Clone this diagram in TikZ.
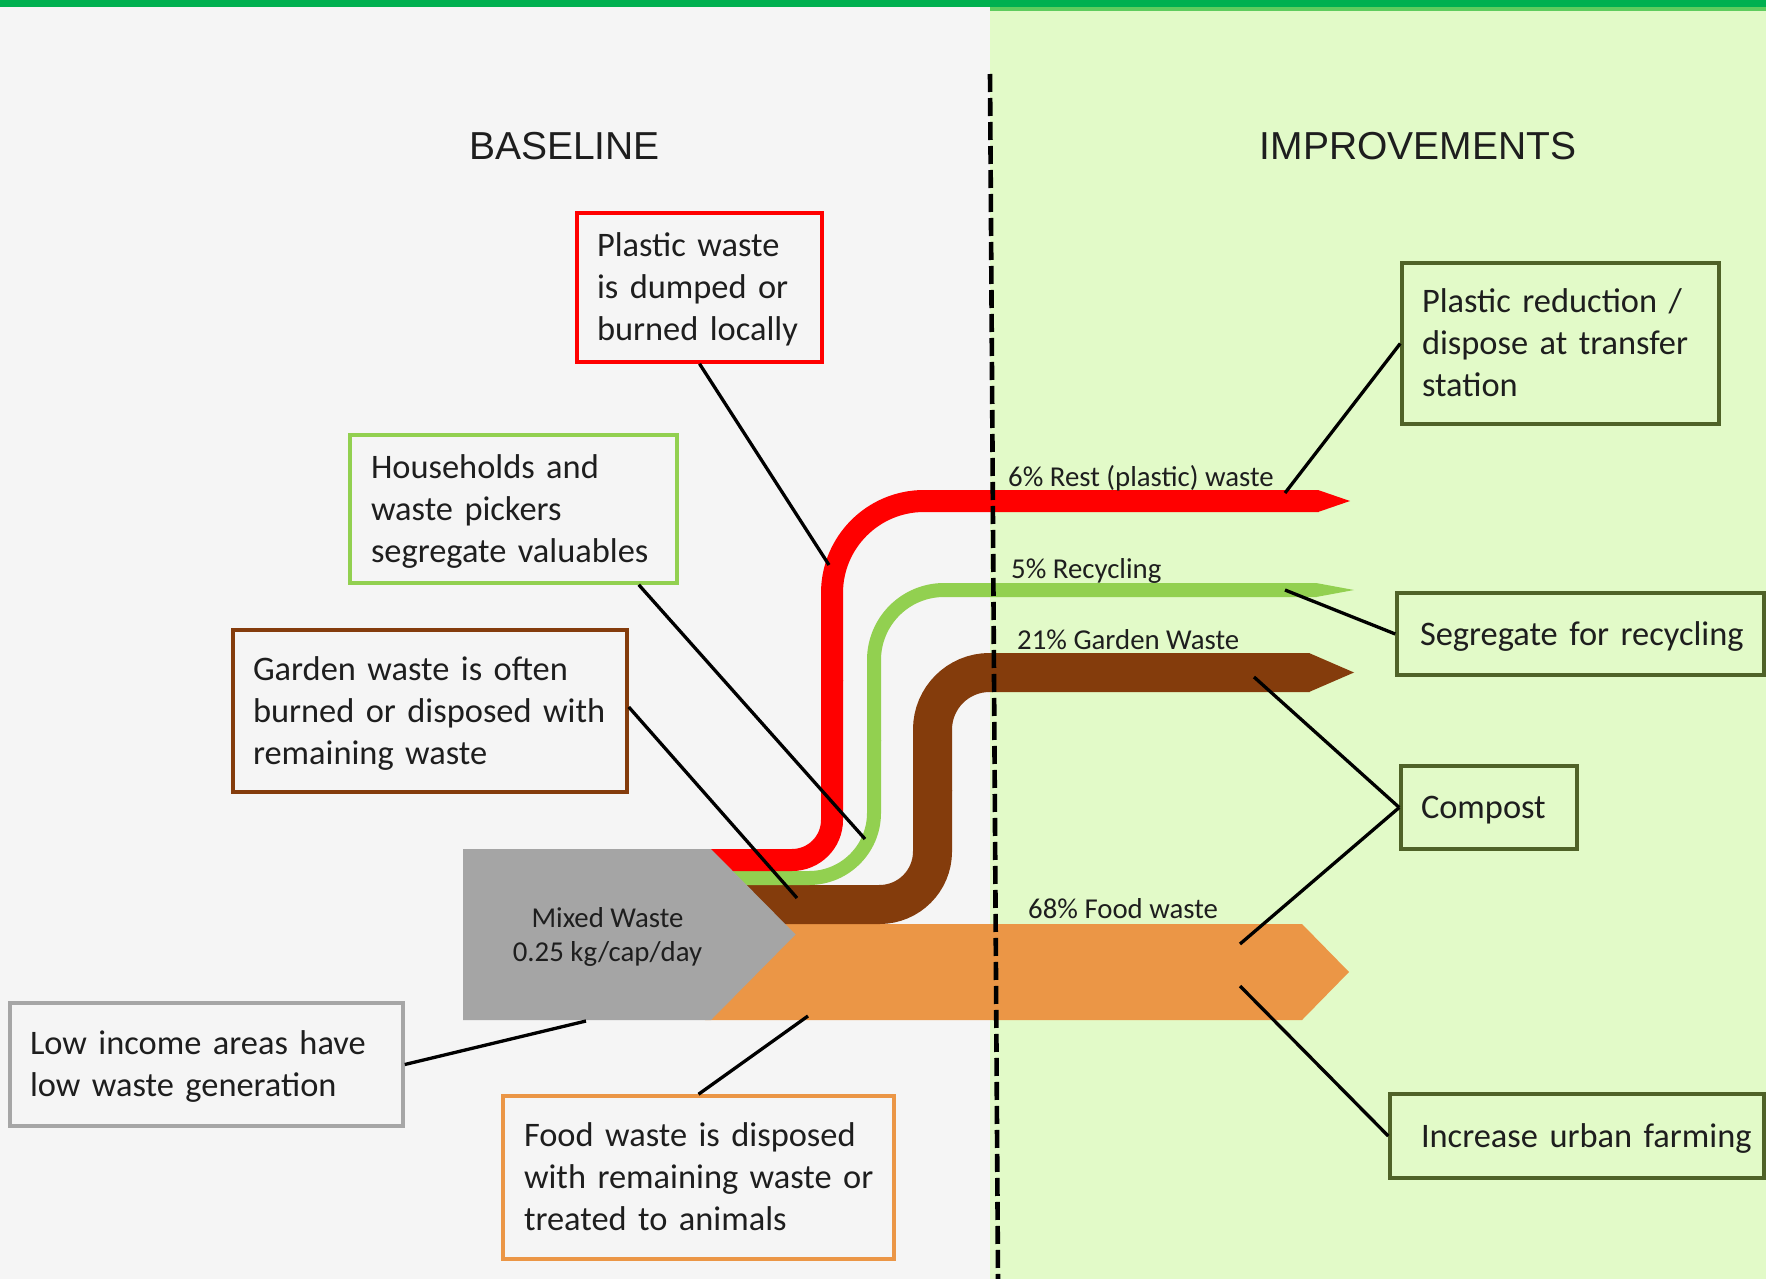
\documentclass[tikz,border=0pt]{standalone}
\usepackage{fontspec}
\setmainfont{Carlito}
\newfontfamily\arialf{Liberation Sans}
\usetikzlibrary{calc}
\definecolor{bgL}{HTML}{F5F5F5}
\definecolor{bgR}{HTML}{E2FAC8}
\definecolor{topbar}{HTML}{00B050}
\definecolor{strip}{HTML}{5ECC5E}
\definecolor{cRed}{HTML}{FF0000}
\definecolor{cGreen}{HTML}{92D050}
\definecolor{cBrown}{HTML}{843C0C}
\definecolor{cOrange}{HTML}{EB9646}
\definecolor{cGrey}{HTML}{A5A5A5}
\definecolor{cBoxGrey}{HTML}{A6A6A6}
\definecolor{cOlive}{HTML}{4F6228}
\definecolor{txt}{HTML}{1E1E1E}
\newcommand\Ln[1]{\mbox{\rule[-10pt]{0pt}{42pt}#1}}
\begin{document}
\begin{tikzpicture}[x=1pt,y=-1pt,
  infobox/.style={draw=#1, line width=3.5pt, inner sep=0pt, align=left, text=txt,
    font=\fontsize{34.4}{42}\selectfont},
  title/.style={anchor=base, text=txt, font=\arialf\fontsize{39}{47}\selectfont},
  flowlabel/.style={anchor=base west, inner sep=0pt, text=txt, font=\fontsize{28.8}{34}\selectfont},
  leader/.style={draw=black, line width=3.3pt},
  band/.style={line width=#1, line cap=butt}]
\useasboundingbox (0,0) rectangle (1766,1279);
% backgrounds
\fill[bgL] (0,0) rectangle (990,1279);
\fill[bgR] (990,0) rectangle (1766,1279);
\fill[strip] (990,6) rectangle (1766,11);
\fill[topbar] (0,0) rectangle (1766,7);

% titles
\node[title] (tBase) at (564.5,160) {BASELINE};
\node[title] (tImp) at (1418,160) {IMPROVEMENTS};

% flow bands
\fill[cOrange] (705,924) -- (1302,924) -- (1349,972) -- (1302,1020) -- (705,1020) -- cycle;
\draw[cBrown, band=39pt, rounded corners=53pt] (705,904.5) -- (932.5,904.5) -- (932.5,790);
\draw[cBrown, band=39pt, rounded corners=57pt] (932.5,791) -- (932.5,672.5) -- (1309.5,672.5);
\fill[cBrown] (1309,653) -- (1354,672.5) -- (1309,692) -- cycle;
\draw[cGreen, band=14pt, rounded corners=65pt] (705,878) -- (874,878) -- (874,740);
\draw[cGreen, band=14pt, rounded corners=70pt] (874,741) -- (874,590) -- (1316.5,590);
\fill[cGreen] (1316,583) -- (1354,590) -- (1316,597) -- cycle;
\draw[cRed, band=22pt, rounded corners=40pt] (705,860) -- (832,860) -- (832,680);
\draw[cRed, band=22pt, rounded corners=92pt] (832,681) -- (832,501) -- (1318.5,501);
\fill[cRed] (1318,490) -- (1350,501) -- (1318,512) -- cycle;

% mixed waste
\fill[cGrey] (463,849) -- (711,849) -- (795.5,934.5) -- (711,1020) -- (463,1020) -- cycle;
\node[align=center, text=txt, font=\fontsize{28.8}{34}\selectfont, inner sep=0pt] (mixed) at (607.5,938)
  {\strut Mixed Waste\\\strut 0.25 kg/cap/day};

% attach points on the bands
\coordinate (redA) at (829,565);
\coordinate (greenA) at (865,839);
\coordinate (brownA) at (797,898);
\coordinate (greyA) at (586,1021);
\coordinate (orangeA) at (808,1016);
\coordinate (redB) at (1285,493);
\coordinate (greenB) at (1285,590);
\coordinate (brownB) at (1254,677);
\coordinate (orangeB) at (1240,944);
\coordinate (orangeC) at (1240,986);

% divider
\draw[line width=4.6pt, dash pattern=on 18pt off 6pt] (990,74) -- (998,1279);

% flow labels
\node[flowlabel] (lRed) at (1008,486) {6\% Rest (plastic) waste};
\node[flowlabel] (lGreen) at (1011,578) {5\% Recycling};
\node[flowlabel] (lBrown) at (1017,649) {21\% Garden Waste};
\node[flowlabel] (lOrange) at (1028,918) {68\% Food waste};

% baseline boxes
\node[infobox=cRed, minimum width=245pt, minimum height=149pt, text width=205pt] (redbox) at (699.5,287.5)
  {\Ln{Plastic waste}\\\Ln{is dumped or}\\\Ln{burned locally}};
\node[infobox=cGreen, minimum width=327pt, minimum height=148pt, text width=285pt] (greenbox) at (513.5,509)
  {\Ln{Households and}\\\Ln{waste pickers}\\\Ln{segregate valuables}};
\node[infobox=cBrown, minimum width=394pt, minimum height=162pt, text width=354pt] (brownbox) at (430,711)
  {\Ln{Garden waste is often}\\\Ln{burned or disposed with}\\\Ln{remaining waste}};
\node[infobox=cBoxGrey, minimum width=393pt, minimum height=123pt, text width=353pt] (greybox) at (206.5,1064.5)
  {\Ln{Low income areas have}\\\Ln{low waste generation}};
\node[infobox=cOrange, minimum width=391pt, minimum height=163pt, text width=349pt] (orangebox) at (698.5,1177.5)
  {\Ln{Food waste is disposed}\\\Ln{with remaining waste or}\\\Ln{treated to animals}};

% improvement boxes
\node[infobox=cOlive, minimum width=317pt, minimum height=161pt, text width=277pt] (prbox) at (1560.5,343.5)
  {\Ln{Plastic reduction /}\\\Ln{dispose at transfer}\\\Ln{station}};
\node[infobox=cOlive, minimum width=367pt, minimum height=82pt, text width=321pt] (segbox) at (1580.5,634)
  {\Ln{Segregate for recycling}};
\node[infobox=cOlive, minimum width=176pt, minimum height=83pt, text width=136pt] (compbox) at (1489,807.5)
  {\Ln{Compost}};
\node[infobox=cOlive, minimum width=374pt, minimum height=84pt, text width=312pt] (farmbox) at (1577,1136)
  {\Ln{Increase urban farming}};

% leaders
\draw[leader] (redbox.south) -- (redA);
\draw[leader] ([xshift=-40pt]greenbox.south east) -- (greenA);
\draw[leader] ([yshift=4pt]brownbox.east) -- (brownA);
\draw[leader] (greybox.east) -- (greyA);
\draw[leader] (orangebox.north) -- (orangeA);
\draw[leader] (prbox.west) -- (redB);
\draw[leader] (segbox.west) -- (greenB);
\draw[leader] (compbox.west) -- (brownB);
\draw[leader] (compbox.west) -- (orangeB);
\draw[leader] (farmbox.west) -- (orangeC);
\end{tikzpicture}
\end{document}
